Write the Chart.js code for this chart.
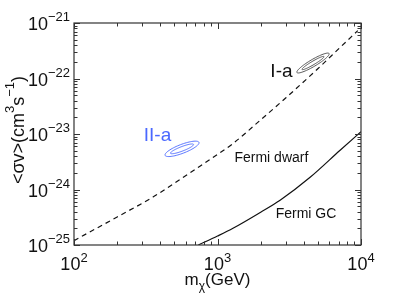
<!DOCTYPE html>
<html>
<head>
<meta charset="utf-8">
<script src="https://cdn.jsdelivr.net/npm/chart.js@4.4.0/dist/chart.umd.min.js"></script>
<style>
  html, body { margin: 0; padding: 0; background: #fff; }
  canvas { display: block; }
</style>
</head>
<body>
<canvas id="chart" width="399" height="300"></canvas>
<script>
const FONT = '"Liberation Sans", Arial, Helvetica, sans-serif';

// Fermi dwarf limit (dashed)
const dwarfMass = [100, 200, 355, 500, 750, 1000, 1260, 2000, 3000, 5000, 6250, 9500];
const dwarfSigv = [1.2e-25, 3.2e-25, 7.3e-25, 1.3e-24, 2.6e-24, 4.3e-24, 6.5e-24, 1.8e-23, 4.5e-23, 1.5e-22, 2.6e-22, 7.3e-22];

// Fermi GC limit (solid)
const gcMass = [735, 1000, 1282, 2000, 2730, 4420, 7150, 10000];
const gcSigv = [1.0e-25, 1.45e-25, 2.0e-25, 3.9e-25, 6.4e-25, 1.66e-24, 5.1e-24, 1.1e-23];

// tick decades (log10)
const xDecades = [2, 3, 4];
const yDecades = [-25, -24, -23, -22, -21];

// fit contours: centre, half major / half minor axis in log10 decades (dx, dy)
const contourNames = ['II-a', 'I-a'];
const contourMass = [566, 4630];
const contourSigv = [5.4e-24, 1.9e-22];
const contourMajor = [[0.118, 0.117], [0.112, 0.171]];
const contourMinor = [[0.011, -0.075], [0.0125, -0.054]];
const contourLevels = [[1, 1], [0.68, 0.5]];
const contourColors = ['#4a68ff', '#444'];

// text annotations
const noteText = ['II-a', 'I-a', 'Fermi dwarf', 'Fermi GC'];
const noteMass = [382, 2790, 2375, 4140];
const noteSigv = [7.4e-24, 1.08e-22, 3.1e-24, 3.05e-25];

const lg = v => Math.log10(v);

const contours = {
  id: 'contours',
  afterDatasetsDraw(chart) {
    const { ctx, scales: { x, y } } = chart;
    ctx.save();
    ctx.lineWidth = 0.9;
    contourNames.forEach((n, i) => {
      ctx.strokeStyle = contourColors[i];
      contourLevels.forEach(([sa, sb]) => {
        ctx.beginPath();
        for (let s = 0; s <= 72; s++) {
          const t = s / 72 * 2 * Math.PI;
          const lx = lg(contourMass[i]) + Math.cos(t) * contourMajor[i][0] * sa + Math.sin(t) * contourMinor[i][0] * sb;
          const ly = lg(contourSigv[i]) + Math.cos(t) * contourMajor[i][1] * sa + Math.sin(t) * contourMinor[i][1] * sb;
          const px = x.getPixelForValue(10 ** lx), py = y.getPixelForValue(10 ** ly);
          s ? ctx.lineTo(px, py) : ctx.moveTo(px, py);
        }
        ctx.closePath();
        ctx.stroke();
      });
    });
    ctx.restore();
  }
};

function pow10(ctx, exp, left, base, size, supSize, lift) {
  ctx.font = size + 'px ' + FONT;
  ctx.fillText('10', left, base);
  const w = ctx.measureText('10').width;
  ctx.font = supSize + 'px ' + FONT;
  ctx.fillText(exp, left + w, base - lift);
}
function powWidth(ctx, exp, size, supSize) {
  ctx.font = size + 'px ' + FONT;
  const w = ctx.measureText('10').width;
  ctx.font = supSize + 'px ' + FONT;
  return w + ctx.measureText(exp).width;
}

const frame = {
  id: 'frame',
  afterDraw(chart) {
    const { ctx, chartArea: a, scales: { x, y } } = chart;
    ctx.save();
    ctx.strokeStyle = '#333';
    ctx.lineWidth = 1.2;
    ctx.strokeRect(a.left, a.top, a.right - a.left, a.bottom - a.top);

    ctx.beginPath();
    ctx.lineWidth = 1;
    xDecades.forEach(d => {
      for (let k = 1; k <= 9; k++) {
        if (d === xDecades[xDecades.length - 1] && k > 1) break;
        const px = Math.round(x.getPixelForValue(k * 10 ** d)) + 0.5;
        const len = k === 1 ? 6 : 3.5;
        ctx.moveTo(px, a.bottom); ctx.lineTo(px, a.bottom - len);
        ctx.moveTo(px, a.top); ctx.lineTo(px, a.top + len);
      }
    });
    yDecades.forEach(d => {
      for (let k = 1; k <= 9; k++) {
        if (d === yDecades[yDecades.length - 1] && k > 1) break;
        const py = Math.round(y.getPixelForValue(k * 10 ** d)) + 0.5;
        const len = k === 1 ? 6 : 3.5;
        ctx.moveTo(a.left, py); ctx.lineTo(a.left + len, py);
        ctx.moveTo(a.right, py); ctx.lineTo(a.right - len, py);
      }
    });
    ctx.stroke();

    ctx.fillStyle = '#111';
    ctx.textBaseline = 'alphabetic';
    ctx.textAlign = 'left';
    xDecades.forEach(d => {
      const px = x.getPixelForValue(10 ** d);
      const w = powWidth(ctx, String(d), 18, 13);
      pow10(ctx, String(d), px - w / 2, a.bottom + 25, 18, 13, 8);
    });
    yDecades.forEach(d => {
      const py = y.getPixelForValue(10 ** d);
      const e = '\u2212' + String(-d);
      const w = powWidth(ctx, e, 18, 13);
      pow10(ctx, e, a.left - 4 - w, py + 7, 18, 13, 9);
    });

    // x title
    ctx.font = '17px ' + FONT;
    const wm = ctx.measureText('m').width;
    const wg = ctx.measureText('(GeV)').width;
    ctx.font = '12px ' + FONT;
    const wc = ctx.measureText('\u03c7').width;
    let sx = (a.left + a.right) / 2 - (wm + wc + wg) / 2;
    const tb = 285;
    ctx.font = '17px ' + FONT;
    ctx.fillText('m', sx, tb); sx += wm;
    ctx.font = '12px ' + FONT;
    ctx.fillText('\u03c7', sx, tb + 5); sx += wc;
    ctx.font = '17px ' + FONT;
    ctx.fillText('(GeV)', sx, tb);

    // y title
    ctx.save();
    ctx.translate(24, 130);
    ctx.rotate(-Math.PI / 2);
    const parts = [['<\u03c3v>(cm', 18, 0], ['3', 13, 10], ['s', 18, 0], ['\u22121', 13, 10], [')', 18, 0]];
    let tw = 0;
    parts.forEach(([t, s]) => { ctx.font = s + 'px ' + FONT; tw += ctx.measureText(t).width; });
    let ty = -tw / 2;
    parts.forEach(([t, s, l]) => {
      ctx.font = s + 'px ' + FONT;
      ctx.fillText(t, ty, -l);
      ty += ctx.measureText(t).width;
    });
    ctx.restore();

    // annotations
    ctx.textAlign = 'center';
    noteText.forEach((t, i) => {
      const big = i < 2;
      ctx.font = (big ? 19 : 14) + 'px ' + FONT;
      ctx.fillStyle = i === 0 ? contourColors[0] : '#111';
      ctx.fillText(t, x.getPixelForValue(noteMass[i]), y.getPixelForValue(noteSigv[i]));
    });
    ctx.restore();
  }
};

new Chart(document.getElementById('chart'), {
  type: 'line',
  data: {
    datasets: [
      {
        label: 'Fermi dwarf',
        data: dwarfMass.map((m, i) => ({ x: m, y: dwarfSigv[i] })),
        borderColor: '#111',
        borderWidth: 1.2,
        borderDash: [5, 4],
        pointRadius: 0,
        cubicInterpolationMode: 'monotone'
      },
      {
        label: 'Fermi GC',
        data: gcMass.map((m, i) => ({ x: m, y: gcSigv[i] })),
        borderColor: '#111',
        borderWidth: 1.2,
        pointRadius: 0,
        cubicInterpolationMode: 'monotone'
      }
    ]
  },
  options: {
    responsive: false,
    animation: false,
    devicePixelRatio: 1,
    layout: { padding: { left: 74, top: 23, right: 38, bottom: 55 } },
    plugins: { legend: { display: false }, tooltip: { enabled: false } },
    scales: {
      x: { type: 'logarithmic', min: 100, max: 10000, display: false },
      y: { type: 'logarithmic', min: 1e-25, max: 1e-21, display: false }
    }
  },
  plugins: [contours, frame]
});
</script>
</body>
</html>
